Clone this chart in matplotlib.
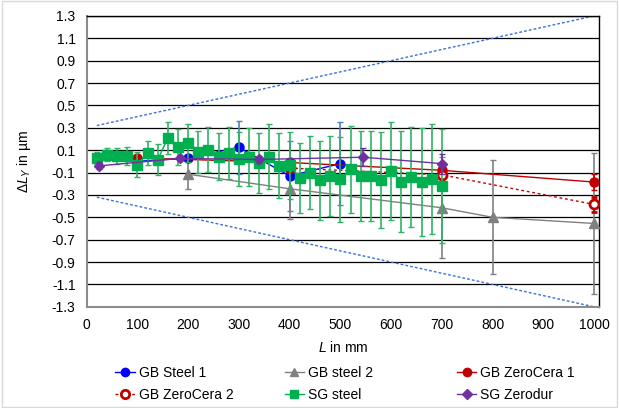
import matplotlib
matplotlib.use("Agg")
import matplotlib.pyplot as plt
from matplotlib.patches import Rectangle
from matplotlib.lines import Line2D

plt.rcParams['font.family'] = ['Liberation Sans', 'DejaVu Sans']
plt.rcParams['mathtext.fontset'] = 'custom'
plt.rcParams['mathtext.rm'] = 'Liberation Sans'
plt.rcParams['mathtext.it'] = 'Liberation Sans:italic'

# GB Steel 1
gb1_L = [100, 200, 300, 400, 500]
gb1_y = [0.0, 0.03, 0.125, -0.13, -0.02]
gb1_err = [0.03, 0.03, 0.24, 0.31, 0.37]

# GB steel 2
gb2_L = [200, 400, 700, 800, 1000]
gb2_y = [-0.115, -0.245, -0.415, -0.50, -0.555]
gb2_err = [0.13, 0.27, 0.45, 0.51, 0.63]

# GB ZeroCera 1
zc1_L = [100, 400, 700, 1000]
zc1_y = [0.03, -0.01, -0.08, -0.185]
zc1_err = [0.02, 0.03, 0.03, 0.07]

# GB ZeroCera 2
zc2_L = [400, 700, 1000]
zc2_y = [-0.06, -0.12, -0.385]
zc2_err = [0.03, 0.03, 0.07]

# SG steel
sg_L = [20, 40, 60, 80, 100, 120, 140, 160, 180, 200, 220, 240, 260, 280, 300,
        320, 340, 360, 380, 400, 420, 440, 460, 480, 500, 520, 540, 560, 580,
        600, 620, 640, 660, 680, 700]
sg_y = [0.03, 0.06, 0.045, 0.045, -0.03, 0.075, 0.015, 0.21, 0.125, 0.16, 0.085,
        0.105, 0.04, 0.075, 0.02, 0.04, -0.015, 0.04, -0.04, -0.035, -0.15, -0.10,
        -0.17, -0.13, -0.16, -0.07, -0.13, -0.13, -0.17, -0.085, -0.18, -0.14,
        -0.185, -0.16, -0.22]
sg_err = [0.05, 0.06, 0.07, 0.08, 0.11, 0.11, 0.14, 0.14, 0.16, 0.17, 0.19, 0.20,
          0.21, 0.23, 0.24, 0.26, 0.27, 0.29, 0.29, 0.30, 0.31, 0.33, 0.35, 0.36,
          0.38, 0.39, 0.40, 0.40, 0.43, 0.44, 0.45, 0.45, 0.48, 0.49, 0.51]

# SG Zerodur
sz_L = [25, 183, 340, 545, 700]
sz_y = [-0.04, 0.026, 0.017, 0.037, -0.02]
sz_err = [0.03, 0.02, 0.03, 0.08, 0.09]

# limit lines
lim_L = [20, 1000]
lim_upper = [0.32, 1.3]
lim_lower = [-0.32, -1.3]

x_ticks = [0, 100, 200, 300, 400, 500, 600, 700, 800, 900, 1000]
y_ticks = [-1.3, -1.1, -0.9, -0.7, -0.5, -0.3, -0.1, 0.1, 0.3, 0.5, 0.7, 0.9, 1.1, 1.3]

fig = plt.figure(figsize=(6.19, 4.08), dpi=100)
ax = fig.add_axes([0.140, 0.248, 0.828, 0.713])

for yt in y_ticks:
    ax.axhline(yt, color='black', lw=0.9, zorder=0)

ax.plot(lim_L, lim_upper, ls=(0, (2, 1.5)), color='#3A6FD8', lw=1.0, zorder=1)
ax.plot(lim_L, lim_lower, ls=(0, (2, 1.5)), color='#3A6FD8', lw=1.0, zorder=1)

styles = [
    dict(L=gb1_L, y=gb1_y, e=gb1_err, c='#0000FF', ec='#4F81BD', m='o', ms=6.5,
         ls='-', mfc=None, mew=1, label='GB Steel 1', z=3),
    dict(L=gb2_L, y=gb2_y, e=gb2_err, c='#808080', ec='#808080', m='^', ms=6.5,
         ls='-', mfc=None, mew=1, label='GB steel 2', z=3),
    dict(L=zc1_L, y=zc1_y, e=zc1_err, c='#C00000', ec='#C00000', m='o', ms=6.5,
         ls='-', mfc=None, mew=1, label='GB ZeroCera 1', z=3),
    dict(L=zc2_L, y=zc2_y, e=zc2_err, c='#C00000', ec='#C00000', m='o', ms=6.5,
         ls=(0, (2, 2)), mfc='white', mew=2, label='GB ZeroCera 2', z=3),
    dict(L=sg_L, y=sg_y, e=sg_err, c='#00B050', ec='#2DB563', m='s', ms=6.5,
         ls='-', mfc=None, mew=1, label='SG steel', z=4),
    dict(L=sz_L, y=sz_y, e=sz_err, c='#7030A0', ec='#7030A0', m='D', ms=5.5,
         ls='-', mfc=None, mew=1, label='SG Zerodur', z=5),
]

handles = []
for s in styles:
    ax.errorbar(s['L'], s['y'], yerr=s['e'], color=s['c'], ecolor=s['ec'], lw=1.0,
                ls=s['ls'], elinewidth=1.2, capsize=2, marker=s['m'], ms=s['ms'],
                mfc=s['mfc'] or s['c'], mew=s['mew'], zorder=s['z'])
    handles.append(Line2D([], [], color=s['c'], lw=1.0, ls=s['ls'], marker=s['m'],
                          ms=s['ms'] - 0.5, mfc=s['mfc'] or s['c'], mew=s['mew'],
                          label=s['label']))

ax.set_xlim(0, 1010)
ax.set_ylim(-1.3, 1.3)
ax.set_xticks(x_ticks)
ax.set_yticks(y_ticks)
ax.set_yticklabels([f'{v:.1f}' for v in y_ticks])
ax.tick_params(length=0, labelsize=10, pad=8)
for sp in ['left', 'bottom']:
    ax.spines[sp].set_color('#8C8C8C')
    ax.spines[sp].set_linewidth(1.5)
for sp in ['right', 'top']:
    ax.spines[sp].set_color('black')
    ax.spines[sp].set_linewidth(1.0)

ax.set_xlabel(r'$L$ in mm', fontsize=10, labelpad=6)
ax.set_ylabel(r'$\Delta L_Y$ in µm', fontsize=10, labelpad=0)
ax.yaxis.set_label_coords(-0.105, 0.5)

# excel style legend: equal width columns, filled row by row
col_x = [0.186, 0.460, 0.738]
for col in range(3):
    pair = [handles[col], handles[col + 3]]
    leg = fig.legend(pair, [h.get_label() for h in pair], loc='upper left',
                     bbox_to_anchor=(col_x[col], 0.103), frameon=False, fontsize=10,
                     handlelength=1.4, handletextpad=0.3, labelspacing=0.55,
                     borderpad=0, borderaxespad=0)

fig.patches.append(Rectangle((0.003, 0.003), 0.994, 0.994, transform=fig.transFigure,
                             fill=False, edgecolor='#D9D9D9', lw=1.0))

fig.savefig('out.png', dpi=100)
